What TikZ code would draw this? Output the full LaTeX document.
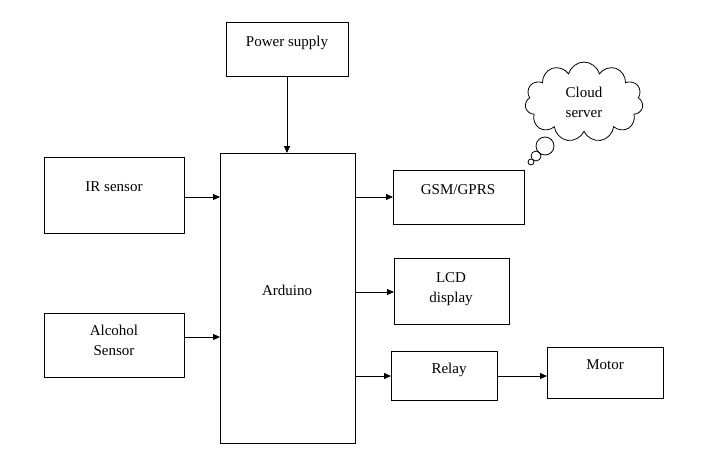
\documentclass[tikz,border=0pt]{standalone}
\usepackage{fontspec}
\setmainfont{Liberation Serif}
\usetikzlibrary{shapes.symbols,arrows.meta}
\begin{document}
\begin{tikzpicture}[x=1pt,y=-1pt,
  blk/.style={draw,thick,line width=0.9pt},
  txt/.style={font=\fontsize{15}{18}\selectfont,align=center,inner sep=0pt},
  arr/.style={-{Triangle[length=7pt,width=6pt]},line width=0.8pt}]
\useasboundingbox (0,0) rectangle (714,453);
\draw[blk] (226,22) rectangle (348,76); \node[txt] (ps) at (287,43) {Power supply};
\draw[blk] (220,153) rectangle (355,443); \node[txt] (ard) at (287,290) {Arduino};
\draw[blk] (44,157) rectangle (184,233); \node[txt] (ir) at (114,187) {IR sensor};
\draw[blk] (44,313) rectangle (184,377); \node[txt] (al) at (114,340) {Alcohol\\[2pt]Sensor};
\draw[blk] (393,170) rectangle (524,224); \node[txt] (gsm) at (458,190) {GSM/GPRS};
\draw[blk] (394,258) rectangle (509,324); \node[txt] (lcd) at (451,289) {LCD\\[2pt]display};
\draw[blk] (391,351) rectangle (497,400); \node[txt] (rel) at (449,370) {Relay};
\draw[blk] (547,347) rectangle (663,398); \node[txt] (mot) at (605,365) {Motor};
\node[cloud,draw,line width=0.8pt,cloud puffs=11,minimum width=118pt,minimum height=80pt,txt] (cl) at (584,102) {Cloud\\[2pt]server};
\draw[line width=0.8pt] (545,146) circle (9);
\draw[line width=0.8pt] (536,156) circle (5);
\draw[line width=0.8pt] (531,162) circle (3);
\coordinate (a1) at (287,76); \coordinate (a2) at (287,153);
\draw[arr] (a1) -- (a2);
\draw[arr] (184,197) -- (220,197);
\draw[arr] (184,337) -- (220,337);
\draw[arr] (355,197) -- (393,197);
\draw[arr] (355,292) -- (394,292);
\draw[arr] (355,376) -- (391,376);
\draw[arr] (497,376) -- (547,376);
\end{tikzpicture}
\end{document}
